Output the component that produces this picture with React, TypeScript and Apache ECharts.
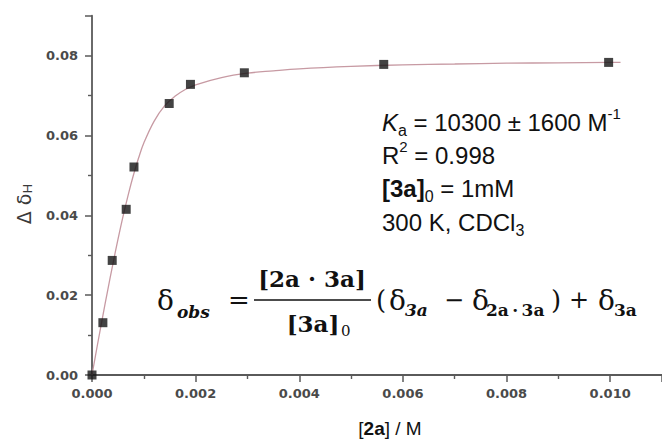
import React, { useEffect, useRef } from "react";
import * as echarts from "echarts";

// Observed titration points: [2a] (M) vs Δδ_H
const obsX = [0, 0.00021, 0.00039, 0.00066, 0.00081, 0.00149, 0.0019, 0.00294, 0.00563, 0.00997];
const obsY = [0, 0.0131, 0.0287, 0.0415, 0.0521, 0.068, 0.0728, 0.0757, 0.0778, 0.0783];

// Fitted binding curve
const fitX = [0, 0.0001, 0.0002, 0.0003, 0.0004, 0.0005, 0.0006, 0.0007, 0.0008, 0.0009, 0.001, 0.0012, 0.0014, 0.0016, 0.0018, 0.002, 0.0025, 0.003, 0.0035, 0.004, 0.005, 0.006, 0.007, 0.008, 0.009, 0.01, 0.0102];
const fitY = [0, 0.0072, 0.0142, 0.021, 0.0276, 0.0339, 0.0398, 0.0452, 0.0501, 0.0544, 0.0581, 0.0636, 0.0674, 0.0698, 0.0715, 0.0727, 0.0745, 0.0756, 0.0762, 0.0767, 0.0773, 0.0777, 0.0779, 0.0781, 0.0782, 0.0783, 0.0783];

const xTickDecimals = 3;
const yTickDecimals = 2;

const SANS = "'Liberation Sans', Arial, sans-serif";
const SERIF = "'DejaVu Serif', serif";
const INK = "#111";

function txt(text: string, x: number, y: number, style: any = {}, extra: any = {}) {
  return {
    type: "text",
    x,
    y,
    silent: true,
    ...extra,
    style: {
      text,
      fill: INK,
      align: "left",
      verticalAlign: "middle",
      ...style,
    },
  };
}

export default function App() {
  const ref = useRef<HTMLDivElement>(null);
  useEffect(() => {
    if (!ref.current) return;
    const chart = echarts.init(ref.current, undefined, { renderer: "svg" });
    const axisColor = "#5a5a5a";
    const labelStyle = { fontFamily: "'DejaVu Sans', sans-serif", fontSize: 13, fontWeight: "bold" as const, color: "#4a4a4a" };

    const richSans = (size: number) => ({
      n: { fontFamily: SANS, fontSize: size, lineHeight: 32, color: INK },
      i: { fontFamily: SANS, fontSize: size, lineHeight: 32, fontStyle: "italic", color: INK },
      b: { fontFamily: SANS, fontSize: size, lineHeight: 32, fontWeight: "bold", color: INK },
      sub: { fontFamily: SANS, fontSize: 16, lineHeight: 16, verticalAlign: "bottom", color: INK },
      sup: { fontFamily: SANS, fontSize: 15, lineHeight: 20, verticalAlign: "top", color: INK },
    });

    const graphics: any[] = [
      // info block
      txt("{i|K}{sub|a}{n| = 10300 ± 1600 M}{sup|-1}", 382, 122, { rich: richSans(24) }),
      txt("{n|R}{sup|2}{n| = 0.998}", 382, 155, { rich: richSans(24) }),
      txt("{b|[3a]}{sub|0}{n| = 1mM}", 382, 188, { rich: richSans(24) }),
      txt("{n|300 K, CDCl}{sub|3}", 382, 222, { rich: richSans(24) }),
      // axis titles
      txt("[{b|2a}] / M", 390, 428, {
        align: "center",
        font: `19px ${SANS}`,
        rich: { b: { fontFamily: SANS, fontSize: 19, fontWeight: "bold", color: INK } },
      }),
      txt("Δ δ{s|H}", 24, 204, {
        align: "center",
        fill: "#3a3a3a",
        font: `19px 'DejaVu Sans', sans-serif`,
        rich: { s: { fontFamily: "'DejaVu Sans', sans-serif", fontSize: 13, lineHeight: 13, verticalAlign: "bottom", color: "#3a3a3a" } },
      }, { rotation: Math.PI / 2 }),
      // equation
      txt("δ", 157, 300, { font: `28px ${SERIF}` }),
      txt("obs", 177, 312, { font: `italic bold 17px ${SERIF}` }),
      txt("=", 228, 300, { font: `26px ${SERIF}` }),
      txt("[2a · 3a]", 312, 278, { align: "center", font: `bold 23px ${SERIF}` }),
      { type: "line", silent: true, shape: { x1: 254, y1: 300, x2: 371, y2: 300 }, style: { stroke: INK, lineWidth: 1.5 } },
      txt("[3a]", 313, 323, { align: "center", font: `bold 23px ${SERIF}` }),
      txt("0", 341, 331, { font: `15px ${SERIF}` }),
      txt("(", 376, 300, { font: `26px ${SERIF}` }),
      txt("δ", 389, 300, { font: `28px ${SERIF}` }),
      txt("3a", 405, 310, { font: `italic bold 17px ${SERIF}` }),
      txt("−", 444, 300, { font: `24px ${SERIF}` }),
      txt("δ", 472, 300, { font: `28px ${SERIF}` }),
      txt("2a\u2009·\u20093a", 486, 310, { font: `bold 17px ${SERIF}` }),
      txt(")", 551, 300, { font: `26px ${SERIF}` }),
      txt("+", 569, 300, { font: `24px ${SERIF}` }),
      txt("δ", 598, 300, { font: `28px ${SERIF}` }),
      txt("3a", 614, 310, { font: `bold 17px ${SERIF}` }),
    ];

    chart.setOption({
      animation: false,
      backgroundColor: "#fff",
      grid: { left: 92, top: 15.7, width: 576.4, height: 359.3, containLabel: false },
      xAxis: {
        type: "value",
        min: 0,
        max: 0.011,
        interval: 0.002,
        splitLine: { show: false },
        axisLine: { lineStyle: { color: axisColor, width: 1.8 } },
        axisTick: { length: 7, lineStyle: { color: axisColor, width: 1.5 } },
        minorTick: { show: true, splitNumber: 2, length: 4, lineStyle: { color: axisColor, width: 1.4 } },
        minorSplitLine: { show: false },
        axisLabel: {
          ...labelStyle,
          margin: 12,
          showMaxLabel: false,
          formatter: (v: number) => v.toFixed(xTickDecimals),
        },
      },
      yAxis: {
        type: "value",
        min: 0,
        max: 0.09,
        interval: 0.02,
        splitLine: { show: false },
        axisLine: { show: true, lineStyle: { color: axisColor, width: 1.8 } },
        axisTick: { show: true, length: 7, lineStyle: { color: axisColor, width: 1.5 } },
        minorTick: { show: true, splitNumber: 2, length: 4, lineStyle: { color: axisColor, width: 1.4 } },
        minorSplitLine: { show: false },
        axisLabel: {
          ...labelStyle,
          margin: 14,
          showMaxLabel: false,
          formatter: (v: number) => v.toFixed(yTickDecimals),
        },
      },
      series: [
        {
          type: "line",
          data: fitX.map((x, i) => [x, fitY[i]]),
          smooth: 0.4,
          showSymbol: false,
          lineStyle: { color: "#c79aa3", width: 1.3 },
          z: 2,
        },
        {
          type: "scatter",
          data: obsX.map((x, i) => [x, obsY[i]]),
          symbol: "rect",
          symbolSize: 9,
          itemStyle: { color: "#141414" },
          z: 3,
        },
      ],
      graphic: graphics,
    });
    return () => chart.dispose();
  }, []);
  return (
    <div
      ref={ref}
      style={{ position: "fixed", left: 0, top: 0, width: 662, height: 439, background: "#fff" }}
    />
  );
}
